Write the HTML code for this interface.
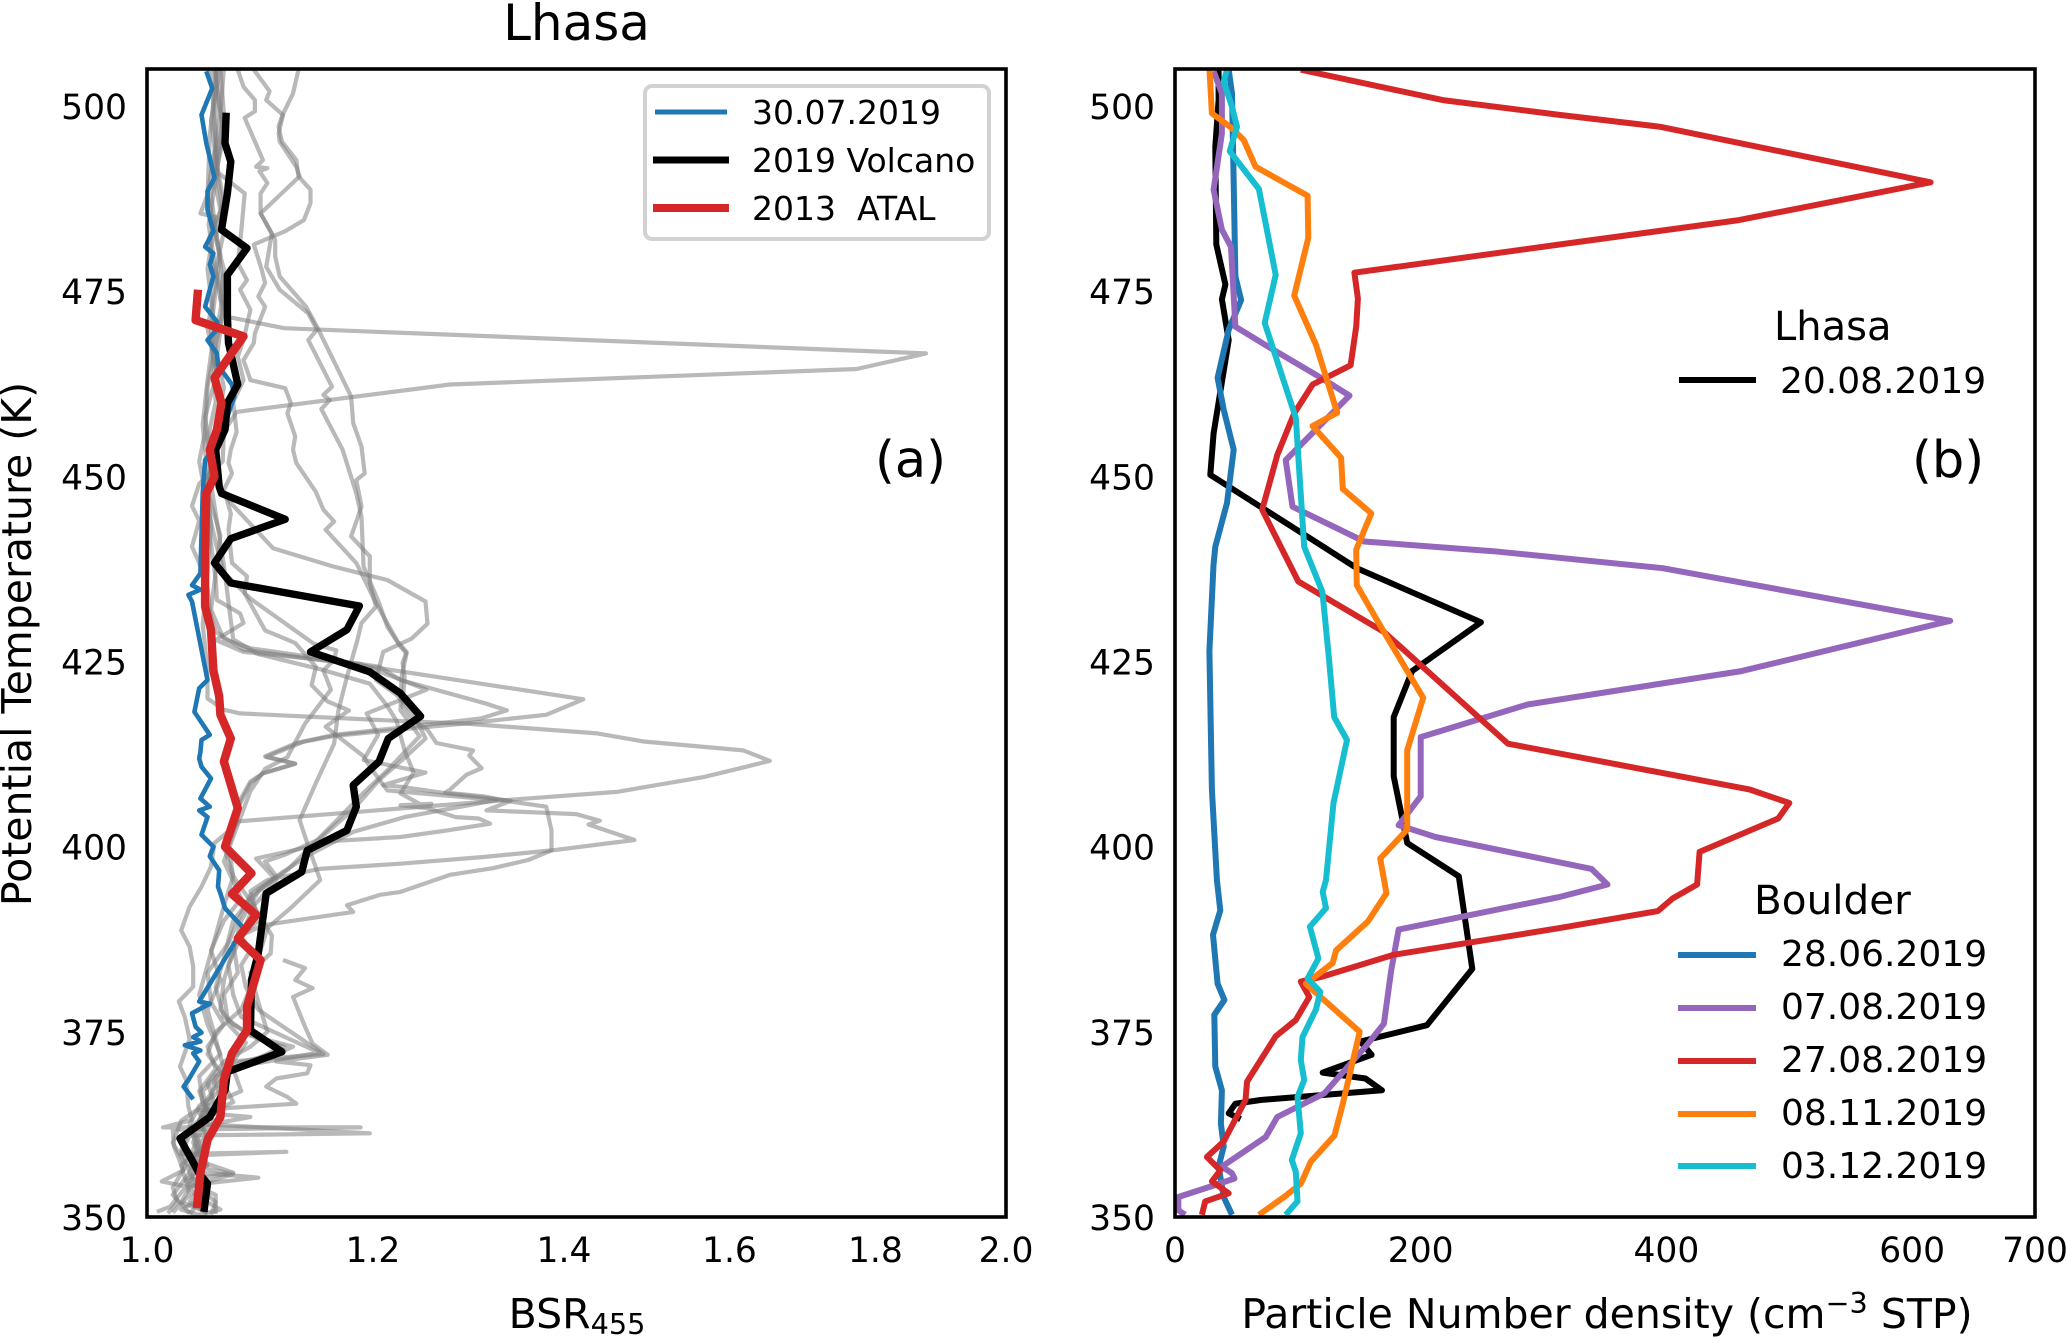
<!DOCTYPE html>
<html lang="en">
<head>
<meta charset="utf-8">
<title>Lhasa BSR and particle number density profiles</title>
<style>
html,body{margin:0;padding:0;background:#fff;}
svg{display:block;}
text{font-family:"DejaVu Sans","Liberation Sans",sans-serif;fill:#000;}
</style>
</head>
<body>
<svg id="chart" xmlns="http://www.w3.org/2000/svg" width="2066" height="1337" viewBox="0 0 2066 1337">
  <defs>
    <clipPath id="clip-a"><rect x="147" y="69" width="859" height="1148"/></clipPath>
    <clipPath id="clip-b"><rect x="1175" y="69" width="860" height="1148"/></clipPath>
  </defs>
  <rect x="0" y="0" width="2066" height="1337" fill="#fff"/>
  <g id="panel-a" clip-path="url(#clip-a)"></g>
  <g id="panel-b" clip-path="url(#clip-b)"></g>
  <rect x="147" y="69" width="859" height="1148" fill="none" stroke="#000" stroke-width="3.6"/>
  <rect x="1175" y="69" width="860" height="1148" fill="none" stroke="#000" stroke-width="3.6"/>
  <g id="ticks"></g>

  <text x="576.5" y="40" font-size="50" text-anchor="middle">Lhasa</text>
  <text x="577" y="1328" font-size="41" text-anchor="middle">BSR<tspan font-size="28.7" dy="6">455</tspan></text>
  <text x="1607" y="1328" font-size="41" text-anchor="middle">Particle Number density (cm<tspan font-size="28.7" dy="-15">−3</tspan><tspan dy="15"> STP)</tspan></text>
  <text transform="translate(31,644) rotate(-90)" font-size="41" text-anchor="middle">Potential Temperature (K)</text>
  <text x="875" y="477" font-size="51">(a)</text>
  <text x="1912" y="477" font-size="51">(b)</text>

  <g>
    <rect x="645" y="86" width="344" height="153" rx="7" fill="#fff" fill-opacity="0.85" stroke="#d2d2d2" stroke-width="4"/>
    <line x1="655" y1="112" x2="727" y2="112" stroke="#1f77b4" stroke-width="5"/>
    <line x1="653" y1="160" x2="729" y2="160" stroke="#000" stroke-width="7"/>
    <line x1="653" y1="208" x2="729" y2="208" stroke="#d62728" stroke-width="8"/>
    <text x="752" y="124" font-size="33">30.07.2019</text>
    <text x="752" y="172" font-size="33">2019 Volcano</text>
    <text x="752" y="220" font-size="33" xml:space="preserve">2013  ATAL</text>
  </g>

  <g>
    <text x="1774" y="340" font-size="40">Lhasa</text>
    <line x1="1679" y1="380" x2="1756" y2="380" stroke="#000" stroke-width="6"/>
    <text x="1780" y="393" font-size="36">20.08.2019</text>
  </g>

  <g>
    <text x="1754" y="914" font-size="40.5">Boulder</text>
    <line x1="1678" y1="955" x2="1756" y2="955" stroke="#1f77b4" stroke-width="6"/>
    <line x1="1678" y1="1008" x2="1756" y2="1008" stroke="#9467bd" stroke-width="6"/>
    <line x1="1678" y1="1061" x2="1756" y2="1061" stroke="#d62728" stroke-width="6"/>
    <line x1="1678" y1="1114" x2="1756" y2="1114" stroke="#ff7f0e" stroke-width="6"/>
    <line x1="1678" y1="1166" x2="1756" y2="1166" stroke="#17becf" stroke-width="6"/>
    <text x="1781" y="966" font-size="36">28.06.2019</text>
    <text x="1781" y="1019" font-size="36">07.08.2019</text>
    <text x="1781" y="1072" font-size="36">27.08.2019</text>
    <text x="1781" y="1125" font-size="36">08.11.2019</text>
    <text x="1781" y="1178" font-size="36">03.12.2019</text>
  </g>
</svg>
<script>
// Tick labels
const thetaTicks = [350,375,400,425,450,475,500];
const bsrTicks = [1.0,1.2,1.4,1.6,1.8,2.0];
const densityTicks = [0,200,400,600,700];

// Each profile: [value, potential temperature in K]; BSR values sit on a log axis
const gray1 = [[1.057,505],[1.06,500],[1.064,496],[1.056,490],[1.061,486],[1.057,482],[1.064,478],[1.061,474],[1.068,471.5],[1.117,470],[1.875,466.6],[1.773,464.5],[1.277,462.4],[1.075,458.7],[1.064,456],[1.063,452],[1.043,449],[1.037,446],[1.043,444],[1.037,440.5],[1.043,438.3],[1.05,435],[1.053,431],[1.057,429],[1.081,426.6],[1.197,424.3],[1.422,419.9],[1.38,417.8],[1.291,416.6],[1.24,416],[1.165,415],[1.128,414],[1.1,412.2],[1.127,411.2],[1.098,409.9],[1.087,408.8],[1.078,406.3],[1.075,403],[1.056,400.5],[1.053,397.3],[1.045,394.6],[1.035,391.9],[1.028,388.7],[1.035,386.5],[1.038,383.8],[1.038,381.1],[1.026,379.1],[1.031,377],[1.035,374],[1.027,370.3],[1.032,368.5],[1.034,364.9],[1.037,363.1],[1.013,362.1],[1.188,362.1],[1.021,361.8],[1.022,359.5],[1.03,356.3],[1.012,354.8],[1.032,354.1],[1.019,351.4],[1.008,350.7]];
const gray2 = [[1.13,504.9],[1.125,501.7],[1.115,498.6],[1.112,497.2],[1.115,495.2],[1.128,492.7],[1.13,490.5],[1.141,488.7],[1.141,486.9],[1.135,484.6],[1.118,483.1],[1.09,481.3],[1.097,477.9],[1.1,476.1],[1.094,474.3],[1.1,472.9],[1.091,469.3],[1.09,468],[1.081,465.7],[1.087,463],[1.118,461.9],[1.123,459.9],[1.12,458.5],[1.127,455.4],[1.125,453.6],[1.128,451.8],[1.146,447.9],[1.153,445.5],[1.163,443.9],[1.155,442.8],[1.184,438.3],[1.203,432.9],[1.224,427.7],[1.233,426.3],[1.229,424.8],[1.231,422.9],[1.229,419],[1.24,417],[1.254,415.8],[1.263,414],[1.301,413],[1.297,412.3],[1.31,410.6],[1.294,409.7],[1.277,407.7],[1.272,407.3],[1.312,406.8],[1.341,406.1],[1.38,405.4],[1.386,402.2],[1.386,399.5],[1.36,398.2],[1.322,397.1],[1.277,396.2],[1.227,393.9],[1.207,393.5],[1.175,392.1],[1.181,391.2],[1.098,389.4],[1.079,388],[1.087,386],[1.079,384],[1.083,381],[1.094,378],[1.113,376],[1.133,374],[1.153,372],[1.11,371.5],[1.072,371],[1.057,368],[1.064,365],[1.043,364],[1.05,362.5],[1.197,361.3],[1.035,361],[1.028,358.5],[1.119,358.8],[1.035,358.3],[1.043,356],[1.094,355.3],[1.046,354.5],[1.05,352],[1.061,351],[1.043,350.3]];
const gray3 = [[1.09,504.9],[1.104,502],[1.101,500.8],[1.116,498.8],[1.112,496.3],[1.113,495.2],[1.128,491.8],[1.131,490.5],[1.096,485.5],[1.109,481.9],[1.109,479.7],[1.113,477],[1.137,472.9],[1.147,470.2],[1.179,460.8],[1.181,457.2],[1.189,454],[1.192,450.4],[1.184,449.5],[1.189,445.9],[1.179,441.9],[1.197,439.2],[1.197,435.6],[1.203,432.4],[1.189,430.2],[1.185,427.9],[1.175,422.9],[1.167,418.4],[1.163,413.9],[1.146,408.6],[1.131,403.6],[1.138,400.5],[1.15,395.5],[1.125,392],[1.102,389],[1.094,385],[1.087,381],[1.079,378],[1.057,375],[1.05,372],[1.064,369],[1.05,366],[1.043,363],[1.05,360.5],[1.035,357],[1.046,355],[1.035,352],[1.05,350.5]];
const gray4 = [[1.076,504.9],[1.081,502.6],[1.091,500.8],[1.091,499.3],[1.082,498.4],[1.098,492.7],[1.092,491.8],[1.102,491.6],[1.095,491.2],[1.102,489.6],[1.096,488.2],[1.096,485.5],[1.106,482.8],[1.101,478.3],[1.113,475.2],[1.139,472],[1.147,469.8],[1.139,468.4],[1.161,462.1],[1.153,461],[1.159,460.3],[1.151,459.1],[1.171,453.6],[1.184,447.7],[1.189,444.5],[1.191,437.8],[1.206,432.9],[1.214,429.7],[1.227,427],[1.233,426.1],[1.228,422.9],[1.227,418.4],[1.246,414.9],[1.214,410.3],[1.189,407],[1.165,403.5],[1.141,400],[1.121,397],[1.094,394],[1.079,390],[1.072,386],[1.064,382],[1.061,378],[1.072,376],[1.094,374],[1.117,373],[1.072,370],[1.079,367],[1.05,365],[1.057,362],[1.043,360],[1.05,357],[1.032,355],[1.043,352],[1.035,350.4]];
const gray5 = [[1.053,505],[1.057,495],[1.05,488],[1.061,480],[1.053,470],[1.057,460],[1.05,455],[1.059,449],[1.07,446.4],[1.107,440.3],[1.163,437.8],[1.214,436],[1.252,433.1],[1.254,430.1],[1.238,428.1],[1.21,426.3],[1.203,422.5],[1.223,420.5],[1.24,418],[1.252,414.6],[1.231,412],[1.206,409],[1.181,405],[1.149,401],[1.119,399],[1.1,398],[1.11,396],[1.087,393],[1.072,390],[1.064,385],[1.057,381],[1.064,377],[1.087,374.5],[1.125,373],[1.11,372],[1.079,371],[1.057,369],[1.053,366],[1.043,363],[1.038,360],[1.05,356.5],[1.072,355.8],[1.035,354],[1.028,352],[1.05,350.6]];
const gray6 = [[1.057,505],[1.057,495],[1.059,491],[1.082,488.2],[1.079,483],[1.076,478.8],[1.084,476.5],[1.078,475.2],[1.087,472.5],[1.081,468.4],[1.076,466.2],[1.081,463],[1.072,460],[1.075,456],[1.07,453.6],[1.068,451.8],[1.071,450.4],[1.064,448.2],[1.07,445],[1.068,442.8],[1.071,438.3],[1.084,436.5],[1.082,434.2],[1.1,429.2],[1.127,427.5],[1.146,424.3],[1.142,421.8],[1.157,419.6],[1.177,418.4],[1.155,416.2],[1.191,412.2],[1.197,410.8],[1.214,407.6],[1.326,406.3],[1.231,404],[1.181,402],[1.141,399],[1.11,396],[1.087,393.5],[1.076,390],[1.068,387],[1.05,383],[1.053,379],[1.064,376],[1.05,373],[1.057,370],[1.043,367],[1.05,364],[1.087,363.5],[1.035,362],[1.028,359],[1.035,356],[1.021,353],[1.035,350.5]];
const gray7 = [[1.061,505],[1.053,498],[1.058,492],[1.064,487],[1.051,482],[1.057,476],[1.05,470],[1.058,464],[1.048,458],[1.053,452],[1.047,446],[1.053,441],[1.057,436],[1.058,433.3],[1.078,431.5],[1.081,430.2],[1.057,427.9],[1.081,426.3],[1.187,424.7],[1.253,421.2],[1.194,418],[1.205,415.1],[1.191,411.7],[1.252,410],[1.21,408.3],[1.227,408.1],[1.274,407.2],[1.341,406.2],[1.315,404.9],[1.414,404.4],[1.441,403.5],[1.428,403],[1.482,400.9],[1.386,399.5],[1.312,398.6],[1.227,397.7],[1.149,397],[1.102,395.5],[1.087,394],[1.094,390],[1.072,387],[1.076,383],[1.064,380],[1.068,376],[1.083,373.5],[1.072,371],[1.064,368],[1.072,365.5],[1.05,364],[1.043,361],[1.035,358],[1.072,356],[1.035,355],[1.05,353],[1.028,351],[1.043,350.3]];
const gray8 = [[1.064,505],[1.061,499],[1.056,493],[1.061,488],[1.064,483],[1.057,478],[1.064,473],[1.056,467],[1.05,462],[1.048,456],[1.043,452],[1.05,446],[1.057,441],[1.064,437],[1.087,433.5],[1.144,427.4],[1.165,426.5],[1.163,425.2],[1.153,423.8],[1.16,421.2],[1.136,416.6],[1.12,412.1],[1.1,410.5],[1.087,407.5],[1.076,403],[1.064,398],[1.079,393],[1.064,390],[1.053,386],[1.061,382],[1.05,378],[1.057,374],[1.064,370],[1.046,367],[1.05,364],[1.035,362],[1.043,359],[1.028,357],[1.035,353],[1.021,350.6]];
const gray9 = [[1.056,505],[1.063,497],[1.057,490],[1.051,484],[1.056,479],[1.063,472],[1.057,465],[1.061,460],[1.056,454],[1.05,448],[1.061,442],[1.057,437],[1.053,432],[1.064,428],[1.087,426.8],[1.206,424.3],[1.227,422.5],[1.315,419.3],[1.337,418.4],[1.309,417.3],[1.236,416.2],[1.163,415.1],[1.135,414.2],[1.101,412.1],[1.127,411.2],[1.098,409.9],[1.087,408.5],[1.072,404],[1.064,400],[1.072,396],[1.09,392],[1.079,388],[1.068,384],[1.072,380],[1.079,377],[1.149,372.2],[1.102,371],[1.064,370],[1.061,367],[1.043,365],[1.035,362.5],[1.043,360],[1.035,356],[1.043,354],[1.057,352],[1.053,350.3]];
const gray10 = [[1.058,505],[1.052,496],[1.05,488],[1.044,485.5],[1.057,485],[1.05,478],[1.056,470],[1.05,463],[1.046,457],[1.05,450],[1.053,443],[1.05,437],[1.046,430],[1.05,424],[1.05,420],[1.064,418.5],[1.078,418],[1.223,417],[1.294,416.6],[1.438,415.3],[1.493,414.2],[1.618,413],[1.653,411.6],[1.622,410.8],[1.567,409.4],[1.461,407.4],[1.337,406.3],[1.075,403.4],[1.068,400],[1.072,396],[1.064,392],[1.057,388],[1.05,384],[1.043,380],[1.05,376],[1.061,372],[1.043,369],[1.046,365],[1.028,363],[1.021,360],[1.032,357],[1.021,354],[1.025,352],[1.017,350.5]];
const gray11 = [[1.061,505],[1.064,499],[1.059,494],[1.053,488],[1.059,481],[1.064,475],[1.056,468],[1.064,462],[1.057,456],[1.053,449],[1.059,443],[1.064,438],[1.068,433],[1.072,428],[1.094,426],[1.149,424],[1.197,422],[1.214,419],[1.223,417],[1.231,413],[1.24,410],[1.227,407.2],[1.254,405.2],[1.258,405.8],[1.227,405.6],[1.254,405.2],[1.283,404],[1.307,403.8],[1.319,403.1],[1.274,402.2],[1.227,401.3],[1.165,400.8],[1.092,398.4],[1.11,395.5],[1.09,392],[1.106,388],[1.105,385.6],[1.087,383],[1.094,379],[1.102,375],[1.087,373],[1.064,371],[1.05,368],[1.057,365],[1.043,363],[1.05,361],[1.043,358],[1.035,354.5],[1.057,353],[1.057,350.4]];
const gray12 = [[1.116,384.7],[1.136,383.6],[1.127,382],[1.143,380.9],[1.125,379.7],[1.136,375.7],[1.143,373.4],[1.157,371.9],[1.11,371],[1.141,370.5],[1.138,369.4],[1.11,368.7],[1.101,367.6],[1.12,366.2],[1.128,365.3],[1.066,364.7],[1.041,364.4]];

const blue30July = [[1.049,504.7],[1.054,502.4],[1.045,498.8],[1.049,495],[1.056,490.3],[1.05,488.5],[1.05,486],[1.055,483.1],[1.048,481],[1.055,480.1],[1.052,478.6],[1.055,477],[1.048,472.9],[1.058,470.9],[1.058,469.8],[1.05,468.4],[1.058,466.6],[1.059,465],[1.071,462.4],[1.073,460.8],[1.068,458.5],[1.061,455],[1.048,452.2],[1.046,447.7],[1.044,436.9],[1.037,435.3],[1.044,434.7],[1.034,434],[1.037,433.1],[1.05,422.5],[1.043,421.4],[1.039,418.2],[1.052,415.1],[1.045,414.4],[1.044,412.8],[1.043,411.9],[1.045,410.8],[1.053,409.2],[1.044,406.5],[1.052,405.4],[1.043,404.9],[1.05,404],[1.045,401.6],[1.055,400],[1.052,398.7],[1.06,396.8],[1.059,394.6],[1.061,393.7],[1.065,391.7],[1.081,389],[1.043,379.1],[1.052,378.8],[1.037,377.5],[1.04,375.7],[1.045,374.9],[1.038,374.3],[1.044,373.7],[1.031,373.2],[1.044,372.5],[1.038,372.1],[1.043,371],[1.034,368.5],[1.03,367.6],[1.038,365.9]];
const volcano2019 = [[1.066,499.1],[1.065,495],[1.07,492.5],[1.067,488.2],[1.062,483.3],[1.084,480.8],[1.067,477.2],[1.067,471.6],[1.068,468],[1.076,462.4],[1.067,459.9],[1.065,456.3],[1.057,453.6],[1.06,448.6],[1.062,447.7],[1.118,444.2],[1.07,441.6],[1.056,438.3],[1.07,435.6],[1.187,432.5],[1.175,429.3],[1.141,426.3],[1.197,423.6],[1.227,420.7],[1.247,417.6],[1.215,414.6],[1.206,411.5],[1.181,408.3],[1.184,405.4],[1.175,402.2],[1.138,399.5],[1.133,396.6],[1.101,393.7],[1.094,385.6],[1.088,382],[1.087,375.2],[1.115,372.3],[1.067,369.6],[1.065,367.1],[1.052,363.5],[1.027,360.6],[1.043,355.9],[1.05,354.5],[1.047,350.7]];
const atal2013 = [[1.042,475.2],[1.04,471.1],[1.081,468.9],[1.056,463.3],[1.062,459.9],[1.058,456.3],[1.052,453.6],[1.056,450],[1.049,447.7],[1.048,440],[1.048,432.4],[1.053,429.3],[1.055,423.8],[1.06,420.3],[1.061,417.8],[1.07,414.6],[1.064,411.5],[1.076,405.2],[1.065,400],[1.088,396.4],[1.071,393.6],[1.092,390.8],[1.076,387.6],[1.096,384.7],[1.084,378.4],[1.084,375.2],[1.071,372.1],[1.064,368.5],[1.061,363.5],[1.05,360.4],[1.044,355.9],[1.041,351.2]];

const lhasa20Aug = [[35.5,504.9],[35.5,500.8],[32.8,494.5],[33.6,481.3],[41,475.9],[38.2,473.9],[43.7,468.4],[31.4,455.8],[28.7,450.2],[116,441],[148,437.6],[249,430.3],[193,423.7],[178,417.5],[178,409.5],[189,400.5],[231,396],[242,383.5],[205,375.9],[151,373.7],[160,371.9],[120.2,369.5],[155,368.7],[168.5,367.1],[69.7,365.8],[49.2,365.3],[43.7,364],[53.3,363.2]];
const boulder28Jun = [[43.7,504.9],[46.4,501.7],[47.8,489.6],[49.2,477],[53.8,473.8],[43.7,469.8],[34.7,463.3],[39.6,459],[47.8,453.6],[42.3,446.4],[32.8,440.5],[31.3,438],[28,426.4],[30,407.7],[34.1,395.5],[36.9,391.4],[30.9,388.1],[34.7,381.5],[40.2,379.3],[32,377.3],[32.8,370.3],[38.2,367.1],[37.4,362.6],[39.6,359.5],[35.5,356.8],[39.6,352.7],[46.4,350.3]];
const boulder07Aug = [[31.4,504.7],[38.2,501.7],[38.2,496.3],[31.4,488.7],[38.2,483.3],[45.6,481],[49.2,470.2],[77.9,467.3],[118.8,463.3],[142,460.9],[90.1,452.2],[95.6,445.9],[154,441.2],[259,439.9],[397,437.6],[631,430.5],[461,423.7],[287,419.2],[200,414.8],[200,406.8],[182,402.9],[212,401.3],[339,397],[352,394.9],[313,393.2],[182,388.8],[176,383.3],[170,376.1],[156,373.2],[121.6,366.7],[83.3,363.5],[73.8,360.8],[38.2,356.8],[46.4,355.9],[48.4,355.2],[28.7,354.1],[2.7,352.7],[2.7,350.9],[8.2,350.3]];
const boulder27Aug = [[102.4,504.9],[218,500.8],[313,498.8],[395,497.2],[615,489.7],[459,484.6],[313,481.3],[146,477.5],[148.9,474],[147.5,470.2],[142.9,465],[112,462.4],[97,458.5],[83.3,452.9],[71,445.5],[88.8,439.6],[100.4,435.8],[170,429],[271,413.9],[468,407.7],[500,405.9],[491,403.8],[427,399.3],[425,394.9],[405,393],[393,391.3],[313,389],[178,385.4],[118.8,382.4],[102.4,381.8],[109.3,379.7],[98.3,376.6],[82,374.4],[58.7,368.3],[57.4,365.8],[39.6,360.2],[26,358.1],[36.9,356.3],[30,354.8],[43.7,353.2],[24.6,352.1],[21.9,350.3]];
const boulder08Nov = [[28.1,504.9],[30,499],[46.4,497],[56,495.4],[65.6,491.8],[107.9,487.9],[108.5,482.2],[97,474.4],[114.7,467.8],[132,458.6],[112,456.8],[135.2,452.5],[136.6,448.3],[159.8,445],[147.5,440.1],[148,435.3],[170,429],[202,420.1],[189,413],[189,402.3],[167,398.4],[170.2,395.5],[172.1,393.7],[157,389.9],[131.1,386],[128.4,384.3],[106.5,381.5],[150.3,375],[136.6,365.3],[129.8,361],[110.6,357.5],[102.4,354.5],[88.8,352.7],[68.3,350.3]];
const boulder03Dec = [[42.3,504.9],[39.6,503.3],[46.4,499.9],[50.5,497.2],[44.5,493.9],[68.3,488.8],[82,477.2],[73,470.7],[98.3,457.9],[105.2,440.5],[120,434.4],[125.3,425.5],[129.6,417.5],[140,414.4],[129,405.9],[122.9,395.5],[120.2,393.9],[122.9,391.7],[109.8,389.2],[116.7,384.9],[107.9,382.2],[118.3,380.4],[114.7,378],[103.8,374.3],[102.4,371.2],[105.2,368.5],[99.7,366.2],[102.4,361.3],[95.1,357.7],[98.3,356.1],[99.7,352.1],[90.1,350.3]];

// Axis functions
function yTheta(t){ return 1217 - (t - 350) * (1148 / 155); }
function xBsr(v){ return 147 + (Math.log(v) / Math.log(2)) * 859; }
function xDensity(v){ return 1175 + v * (860 / 700); }

const NS = 'http://www.w3.org/2000/svg';
const panelA = document.getElementById('panel-a');
const panelB = document.getElementById('panel-b');
const tickGroup = document.getElementById('ticks');

function drawLine(parent, series, xFn, color, width, opacity, name){
  const el = document.createElementNS(NS, 'polyline');
  el.setAttribute('points', series.map(function(p){
    return xFn(p[0]).toFixed(1) + ',' + yTheta(p[1]).toFixed(1);
  }).join(' '));
  el.setAttribute('fill', 'none');
  el.setAttribute('stroke', color);
  el.setAttribute('stroke-width', width);
  el.setAttribute('stroke-linejoin', 'round');
  el.setAttribute('stroke-linecap', 'butt');
  if (opacity < 1) el.setAttribute('stroke-opacity', opacity);
  
  
  parent.appendChild(el);
}

const grayProfiles = [gray1,gray2,gray3,gray4,gray5,gray6,gray7,gray8,gray9,gray10,gray11,gray12];
grayProfiles.forEach(function(s){
  drawLine(panelA, s, xBsr, '#808080', 4.2, 0.55, 'bsr-background-profile');
});
drawLine(panelA, blue30July, xBsr, '#1f77b4', 4.6, 1, 'bsr-line-30-07-2019');
drawLine(panelA, volcano2019, xBsr, '#000000', 7.4, 1, 'bsr-line-2019-volcano');
drawLine(panelA, atal2013, xBsr, '#d62728', 8.4, 1, 'bsr-line-2013-atal');

drawLine(panelB, lhasa20Aug, xDensity, '#000000', 6, 1, 'density-line-20-08-2019');
drawLine(panelB, boulder28Jun, xDensity, '#1f77b4', 6, 1, 'density-line-28-06-2019');
drawLine(panelB, boulder07Aug, xDensity, '#9467bd', 6, 1, 'density-line-07-08-2019');
drawLine(panelB, boulder27Aug, xDensity, '#d62728', 6, 1, 'density-line-27-08-2019');
drawLine(panelB, boulder08Nov, xDensity, '#ff7f0e', 6, 1, 'density-line-08-11-2019');
drawLine(panelB, boulder03Dec, xDensity, '#17becf', 6, 1, 'density-line-03-12-2019');

function addTick(x, y, label, anchor, name){
  const t = document.createElementNS(NS, 'text');
  t.setAttribute('x', x);
  t.setAttribute('y', y);
  t.setAttribute('font-size', '34.5');
  t.setAttribute('text-anchor', anchor);
  
  
  t.textContent = label;
  tickGroup.appendChild(t);
}
thetaTicks.forEach(function(v){
  addTick(127, yTheta(v) + 13, String(v), 'end', 'y-tick-label-a');
  addTick(1155, yTheta(v) + 13, String(v), 'end', 'y-tick-label-b');
});
bsrTicks.forEach(function(v){
  addTick(xBsr(v), 1262, v.toFixed(1), 'middle', 'x-tick-label-bsr');
});
densityTicks.forEach(function(v){
  addTick(xDensity(v), 1262, String(v), 'middle', 'x-tick-label-density');
});
</script>
</body>
</html>
